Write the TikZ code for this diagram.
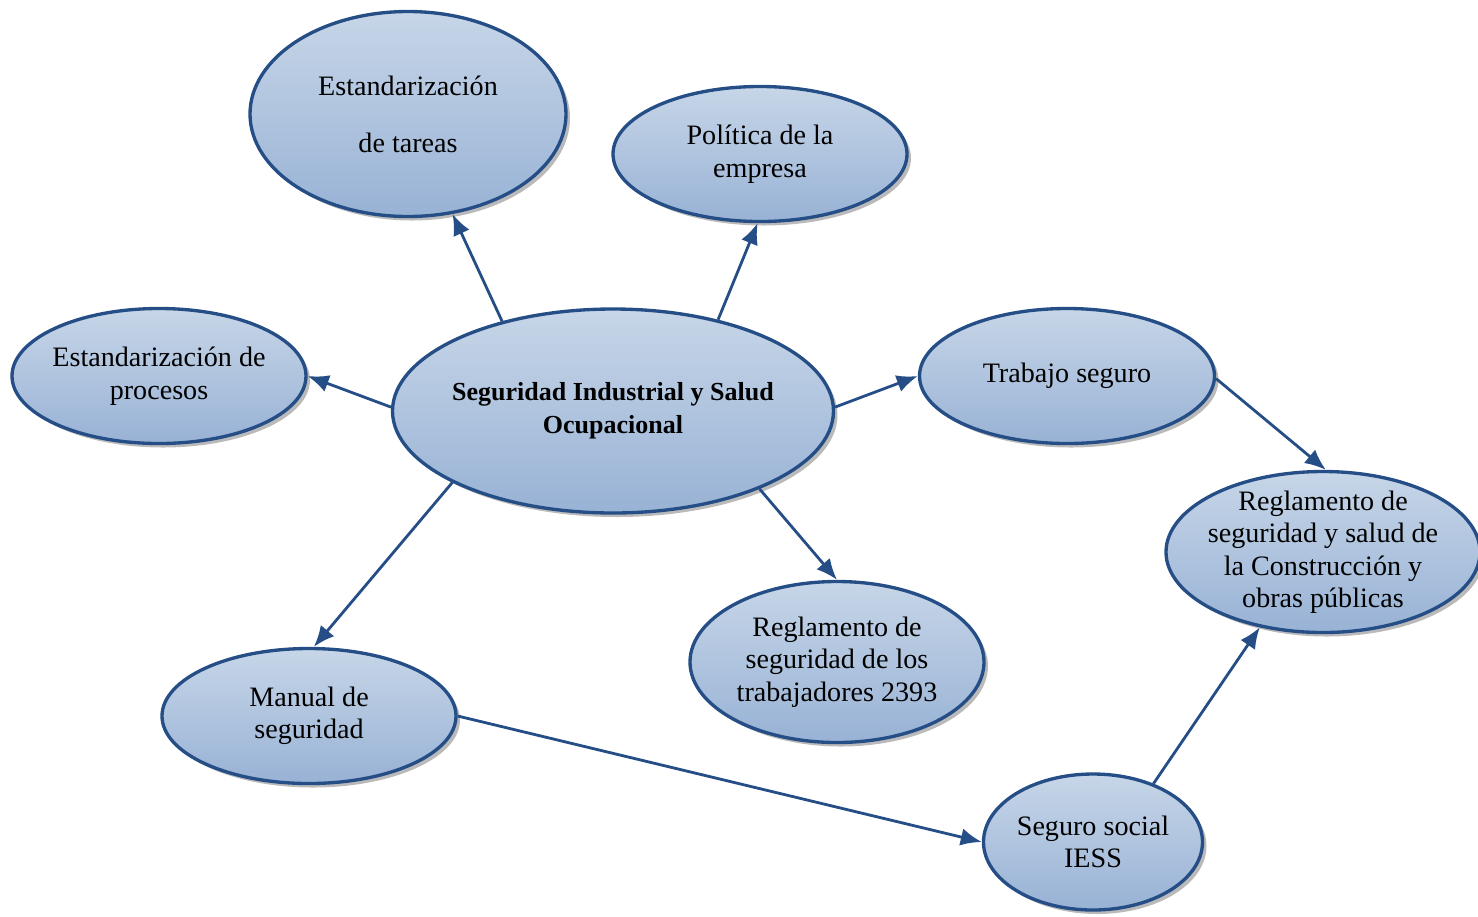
\documentclass[tikz,border=0pt]{standalone}
\usepackage{fontspec}
\setmainfont{Liberation Serif}
\usetikzlibrary{shapes, arrows.meta, positioning, shadows}
\definecolor{bubtop}{RGB}{199,214,232}
\definecolor{bubbot}{RGB}{152,178,213}
\definecolor{bubline}{RGB}{38,78,134}
\tikzstyle{bubble} = [draw=bubline, ellipse, line width=1.9pt, top color=bubtop, bottom color=bubbot, drop shadow={shadow xshift=0.08cm, shadow yshift=-0.08cm, fill=black!45, opacity=0.6}]
\tikzstyle{txt} = [align=center, font=\fontsize{16}{18.5}\selectfont]
\tikzstyle{line} = [draw=bubline, line width=1.6pt, -{Latex[length=12pt, width=10pt]}]

\begin{document}
\begin{tikzpicture}[node distance=1cm, on grid]
	\useasboundingbox (0,0) rectangle (29.56,-18.32);
	\node [bubble, minimum width=8.82cm, minimum height=4.08cm, label={[txt, font=\fontsize{14.8}{18.7}\selectfont\bfseries]center:Seguridad Industrial y Salud\\Ocupacional}] (central) at (12.26,-8.22) {};
	\node [bubble, minimum width=6.32cm, minimum height=4.10cm, above left=5.94cm and 4.10cm of central, label={[txt]center:Estandarización\\[14pt]de tareas}] (tareas) {};
	\node [bubble, minimum width=5.88cm, minimum height=2.70cm, above right=5.14cm and 2.94cm of central, label={[txt]center:Política de la\\empresa}] (politica) {};
	\node [bubble, minimum width=5.88cm, minimum height=2.70cm, above left=0.70cm and 9.08cm of central, label={[txt]center:Estandarización de\\procesos}] (procesos) {};
	\node [bubble, minimum width=5.90cm, minimum height=2.70cm, above right=0.70cm and 9.08cm of central, label={[txt]center:Trabajo seguro}] (trabajo) {};
	\node [bubble, minimum width=6.28cm, minimum height=3.22cm, below right=3.52cm and 5.12cm of trabajo, label={[txt]center:Reglamento de\\seguridad y salud de\\la Construcción y\\obras públicas}] (construccion) {};
	\node [bubble, minimum width=5.88cm, minimum height=3.22cm, below right=5.02cm and 4.48cm of central, label={[txt]center:Reglamento de\\seguridad de los\\trabajadores 2393}] (trabajadores) {};
	\node [bubble, minimum width=5.88cm, minimum height=2.70cm, below left=6.10cm and 6.08cm of central, label={[txt]center:Manual de\\seguridad}] (manual) {};
	\node [bubble, minimum width=4.38cm, minimum height=2.72cm, below right=2.52cm and 15.68cm of manual, label={[txt]center:Seguro social\\IESS}] (seguro) {};

	\path [line] (central.141.9) -- (tareas.294.5);
	\path [line] (central.41.5) -- (politica.268.4);
	\path [line] (central.179.2) -- (procesos.0);
	\path [line] (central.1) -- (trabajo.180);
	\path [line] (trabajo.359) -- (construccion.88.6);
	\path [line] (central.332.7) -- (trabajadores.90.7);
	\path [line] (central.204.5) -- (manual.86.6);
	\path [line] (manual.0) -- (seguro.180);
	\path [line] (seguro.44) -- (construccion.230.9);
\end{tikzpicture}
\end{document}
